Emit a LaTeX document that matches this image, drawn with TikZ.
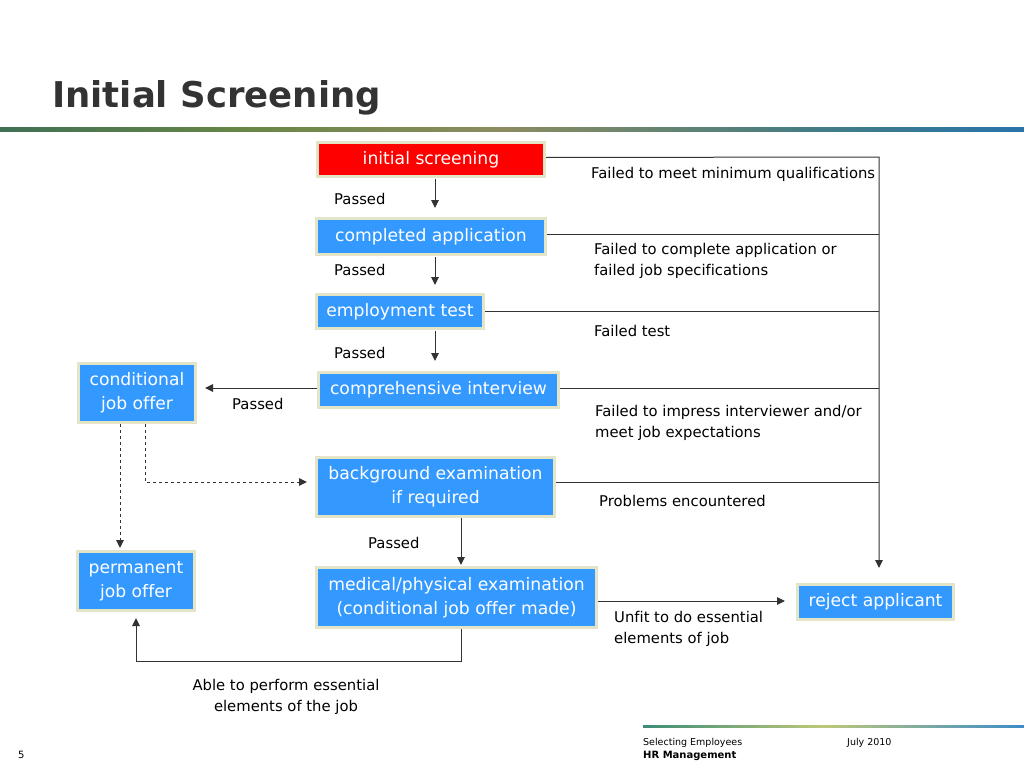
\documentclass[tikz,border=0pt]{standalone}
\usepackage{fontspec}
\setmainfont[Ligatures=NoCommon]{DejaVu Sans}
\usetikzlibrary{arrows.meta,calc}
\definecolor{boxblue}{RGB}{51,153,255}
\definecolor{boxrim}{RGB}{228,228,200}
\definecolor{boxred}{RGB}{255,0,0}
\definecolor{linegray}{RGB}{51,51,51}
\definecolor{titlegray}{RGB}{51,51,51}
\definecolor{gA}{RGB}{64,112,84}
\definecolor{gB}{RGB}{105,135,70}
\definecolor{gC}{RGB}{140,140,95}
\definecolor{gD}{RGB}{70,125,130}
\definecolor{gE}{RGB}{40,115,170}
\definecolor{fA}{RGB}{60,140,120}
\definecolor{fB}{RGB}{190,200,120}
\definecolor{fC}{RGB}{60,140,200}
\tikzset{
  box/.style={draw=boxrim, line width=3pt, fill=boxblue, text=white, align=center,
    font=\fontsize{17.2}{24}\selectfont, inner sep=0pt},
  lbl/.style={anchor=west, align=left, text=black, inner sep=0pt,
    font=\fontsize{14.8}{21}\selectfont},
  conn/.style={draw=linegray, line width=1pt},
  arr/.style={conn, -{Triangle[length=8pt,width=7.5pt]}},
}
\begin{document}
\begin{tikzpicture}[x=1pt,y=-1pt]
\useasboundingbox (0,0) rectangle (1024,768);
% title and bars
\node[anchor=base west, inner sep=0pt, text=titlegray, font=\fontsize{35.5}{40}\selectfont\bfseries] (title) at (52,107) {Initial Screening};
\shade[left color=gA, right color=gB] (0,127) rectangle (250.5,131);
\shade[left color=gB, right color=gC] (250,127) rectangle (500.5,131);
\shade[left color=gC, right color=gD] (500,127) rectangle (800.5,131);
\shade[left color=gD, right color=gE] (800,127) rectangle (1024,131);
\shade[left color=fA, right color=fB] (643,725) rectangle (823.5,727);
\shade[left color=fB, right color=fC] (823,725) rectangle (1024,727);
\node[anchor=base west, inner sep=0pt, text=black, font=\fontsize{9.5}{11}\selectfont] (f1) at (643,745) {Selecting Employees};
\node[anchor=base west, inner sep=0pt, text=black, font=\fontsize{10}{12}\selectfont\bfseries] (f2) at (643,758) {HR Management};
\node[anchor=base west, inner sep=0pt, text=black, font=\fontsize{9.5}{11}\selectfont] (f3) at (847,745) {July 2010};
\node[anchor=base west, inner sep=0pt, text=black, font=\fontsize{10}{12}\selectfont] (pg) at (18,758) {5};

% boxes
\node[box, fill=boxred, minimum width=227pt, minimum height=34pt] (init) at (431,159.5) {initial screening};
\node[box, minimum width=229pt, minimum height=36pt] (compl) at (431,236.5) {completed application};
\node[box, minimum width=167pt, minimum height=34pt] (emp) at (400,311.5) {employment test};
\node[box, minimum width=240pt, minimum height=35pt] (comp) at (438.5,390) {comprehensive interview};
\node[box, minimum width=117pt, minimum height=59pt] (cond) at (137,393) {conditional\\job offer};
\node[box, minimum width=238pt, minimum height=59pt] (back) at (435.5,487) {background examination\\if required};
\node[box, minimum width=117pt, minimum height=59pt] (perm) at (136,581) {permanent\\ job offer};
\node[box, minimum width=280pt, minimum height=60pt] (med) at (456.5,597.5) {medical/physical examination\\(conditional job offer made)};
\node[box, minimum width=156pt, minimum height=35pt] (rej) at (875.5,602) {reject applicant};

% right rail
\coordinate (rtop) at (879,157);
\coordinate (rtip) at (879,568);
\draw[arr] ([yshift=2pt]init.east) -- (rtop) -- (rtip);
\draw[conn] ([yshift=2pt]compl.east) -- ([yshift=2pt]compl.east -| rtop);
\draw[conn] (emp.east) -- (emp.east -| rtop);
\draw[conn] ([yshift=2pt]comp.east) -- ([yshift=2pt]comp.east -| rtop);
\draw[conn] ([yshift=5pt]back.east) -- ([yshift=5pt]back.east -| rtop);

% main chain
\draw[arr, shorten >=9pt, shorten <=1pt] ([xshift=4pt]init.south) -- ([xshift=4pt]init.south |- compl.north);
\draw[arr, shorten >=8pt, shorten <=1pt] ([xshift=4pt]compl.south) -- ([xshift=4pt]compl.south |- emp.north);
\draw[arr, shorten >=10pt, shorten <=1pt] ([xshift=35pt]emp.south) -- ([xshift=35pt]emp.south |- comp.north);
\draw[arr, shorten >=8pt] ([yshift=2pt]comp.west) -- ([yshift=2pt]comp.west -| cond.east);
\draw[arr, dashed, shorten >=2pt] ([xshift=-17pt]cond.south) -- ([xshift=-17pt]cond.south |- perm.north);
\draw[arr, dashed, shorten >=8pt] ([xshift=8pt]cond.south) |- ([yshift=5pt]back.west);
\draw[arr, shorten >=1pt] ([xshift=25.5pt]back.south) -- ([xshift=25.5pt]back.south |- med.north);
\draw[arr, shorten >=6pt] ([xshift=4.5pt]med.south) -- ++(0,32) -| (perm.south);
\draw[arr, shorten >=11pt] ([yshift=-3.5pt]med.east) -- ([yshift=-3.5pt]med.east -| rej.west);

% labels
\node[lbl] (p1) at (334,199) {Passed};
\node[lbl] (p2) at (334,270) {Passed};
\node[lbl] (p3) at (334,353) {Passed};
\node[lbl] (p4) at (232,404) {Passed};
\node[lbl] (p5) at (368,543) {Passed};
\node[lbl] (l1) at (591,174) {Failed to meet minimum qualifications};
\node[lbl] (l2) at (594,260.5) {Failed to complete application or\\failed job specifications};
\node[lbl] (l3) at (594,331) {Failed test};
\node[lbl] (l4) at (595,422.5) {Failed to impress interviewer and/or\\meet job expectations};
\node[lbl] (l5) at (599,501) {Problems encountered};
\node[lbl] (l6) at (614,628.5) {Unfit to do essential\\elements of job};
\node[lbl, anchor=center, align=center] (l7) at (286,696.5) {Able to perform essential\\ elements of the job};
\end{tikzpicture}
\end{document}
